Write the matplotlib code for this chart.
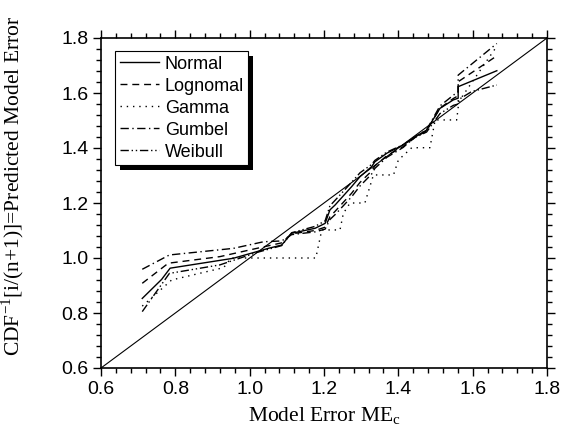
import matplotlib
matplotlib.use("Agg")
import matplotlib.pyplot as plt
from matplotlib.patches import Rectangle
from matplotlib.ticker import MultipleLocator

# ---- data ----
normal_x = [0.711, 0.763, 0.786, 0.956, 1.019, 1.050, 1.086, 1.113, 1.176, 1.203, 1.216, 1.230,
            1.274, 1.297, 1.328, 1.337, 1.369, 1.413, 1.445, 1.476, 1.512, 1.548, 1.561, 1.561, 1.665]
normal_y = [0.853, 0.922, 0.963, 0.999, 1.023, 1.035, 1.047, 1.090, 1.108, 1.126, 1.175, 1.193,
            1.259, 1.296, 1.332, 1.350, 1.381, 1.411, 1.441, 1.465, 1.544, 1.575, 1.581, 1.623, 1.681]

lognormal_x = [0.711, 0.781, 0.920, 1.019, 1.086, 1.113, 1.176, 1.203, 1.216, 1.230, 1.274, 1.297,
               1.328, 1.337, 1.369, 1.413, 1.445, 1.476, 1.512, 1.548, 1.561, 1.561, 1.665]
lognormal_y = [0.908, 0.981, 1.005, 1.035, 1.055, 1.088, 1.100, 1.112, 1.150, 1.170, 1.235, 1.275,
               1.316, 1.335, 1.372, 1.405, 1.438, 1.462, 1.545, 1.580, 1.590, 1.641, 1.735]

gamma_x = [0.711, 0.790, 0.930, 0.950, 1.178, 1.194, 1.243, 1.252, 1.270, 1.310, 1.333, 1.387,
           1.400, 1.436, 1.485, 1.499, 1.557, 1.563, 1.665]
gamma_y = [0.825, 0.920, 0.965, 1.000, 1.000, 1.102, 1.102, 1.162, 1.200, 1.200, 1.302, 1.302,
           1.356, 1.401, 1.401, 1.502, 1.502, 1.570, 1.770]

gumbel_x = [0.711, 0.784, 0.956, 1.037, 1.086, 1.113, 1.176, 1.203, 1.216, 1.230, 1.274, 1.297,
            1.328, 1.337, 1.369, 1.413, 1.445, 1.476, 1.512, 1.548, 1.561, 1.561, 1.665]
gumbel_y = [0.959, 1.011, 1.035, 1.059, 1.062, 1.085, 1.095, 1.105, 1.140, 1.158, 1.222, 1.262,
            1.305, 1.326, 1.366, 1.402, 1.440, 1.466, 1.553, 1.592, 1.605, 1.665, 1.780]

weibull_x = [0.711, 0.784, 0.920, 1.019, 1.086, 1.113, 1.176, 1.203, 1.216, 1.230, 1.274, 1.297,
             1.328, 1.337, 1.369, 1.413, 1.445, 1.476, 1.512, 1.548, 1.561, 1.561, 1.597, 1.665]
weibull_y = [0.805, 0.944, 0.975, 1.020, 1.045, 1.092, 1.115, 1.135, 1.190, 1.210, 1.275, 1.310,
             1.340, 1.355, 1.385, 1.412, 1.438, 1.458, 1.525, 1.555, 1.560, 1.575, 1.605, 1.629]

diag = [0.6, 1.8]
tick_vals = [0.6, 0.8, 1.0, 1.2, 1.4, 1.6, 1.8]
tick_labels = ["0.6", "0.8", "1.0", "1.2", "1.4", "1.6", "1.8"]

# ---- figure ----
fig = plt.figure(figsize=(5.65, 4.44), dpi=100)
ax = fig.add_axes([101/565, 1-368/444, 446/565, 330/444])

lw = 1.0
ax.plot(diag, diag, color="black", lw=0.8)
ax.plot(normal_x, normal_y, color="black", lw=lw, ls="-", label="Normal")
ax.plot(lognormal_x, lognormal_y, color="black", lw=lw, ls=(0, (5, 3.5)), label="Lognomal")
ax.plot(gamma_x, gamma_y, color="black", lw=lw, ls=(0, (1, 3.5)), label="Gamma")
ax.plot(gumbel_x, gumbel_y, color="black", lw=lw, ls=(0, (6, 2.5, 1, 2.5)), label="Gumbel")
ax.plot(weibull_x, weibull_y, color="black", lw=lw, ls=(0, (6, 2, 1, 2, 1, 2)), label="Weibull")

ax.set_xlim(0.6, 1.8)
ax.set_ylim(0.6, 1.8)
ax.set_xticks(tick_vals)
ax.set_xticklabels(tick_labels)
ax.set_yticks(tick_vals)
ax.set_yticklabels(tick_labels)
ax.xaxis.set_minor_locator(MultipleLocator(0.04))
ax.yaxis.set_minor_locator(MultipleLocator(0.04))
ax.tick_params(which="both", direction="out", top=True, right=True, width=1.0)
ax.tick_params(which="major", length=6, labelsize=14, pad=3)
ax.tick_params(which="minor", length=3.5)
for lab in ax.get_xticklabels() + ax.get_yticklabels():
    lab.set_family("Liberation Sans")
for s in ax.spines.values():
    s.set_linewidth(1.2)

ax.set_xlabel("Model Error ME$_\\mathregular{c}$", family="Liberation Serif", fontsize=15.5, labelpad=6)
ax.set_ylabel("CDF$^{\\mathregular{-1}}$[i/(n+1)]=Predicted Model Error", family="Liberation Serif",
              fontsize=15.5)
ax.yaxis.set_label_coords(-0.168, 0.552)

leg = ax.legend(loc="upper left", bbox_to_anchor=(14/446, 1-13/330), frameon=True, fancybox=False,
                edgecolor="black", framealpha=1, borderpad=0.25, labelspacing=0.28, handlelength=2.2,
                handletextpad=0.3, borderaxespad=0, prop={"family": "Liberation Sans", "size": 13})
leg.get_frame().set_linewidth(0.8)

fig.canvas.draw()
bb = leg.get_window_extent().transformed(fig.transFigure.inverted())
off_x = 5/565
off_y = 5/444
shadow = Rectangle((bb.x0 + off_x, bb.y0 - off_y), bb.width, bb.height, transform=fig.transFigure,
                   facecolor="black", edgecolor="none", zorder=4)
ax.add_artist(shadow)
shadow.set_clip_on(False)

fig.savefig("out.png", dpi=100)
